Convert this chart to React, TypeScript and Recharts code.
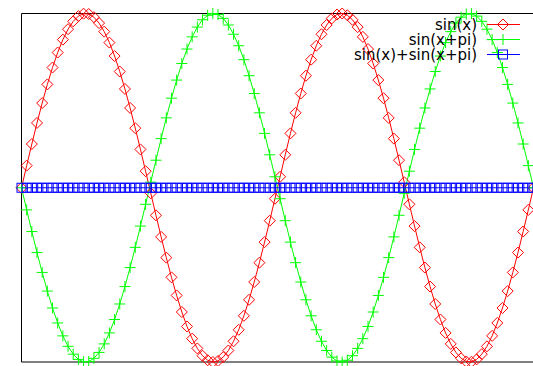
import { LineChart, Line, XAxis, YAxis, Legend, ReferenceArea } from "recharts";

// 100 samples over [0, 4*pi]
const sinX = [
  0, 0.127, 0.251, 0.372, 0.486, 0.593, 0.69, 0.776, 0.85, 0.91,
  0.955, 0.985, 0.999, 0.997, 0.979, 0.945, 0.896, 0.833, 0.756, 0.667,
  0.567, 0.458, 0.342, 0.22, 0.095, -0.032, -0.158, -0.282, -0.401, -0.514,
  -0.618, -0.713, -0.796, -0.866, -0.922, -0.964, -0.99, -1, -0.994, -0.972,
  -0.934, -0.881, -0.815, -0.735, -0.643, -0.541, -0.43, -0.312, -0.189, -0.063,
  0.063, 0.189, 0.312, 0.43, 0.541, 0.643, 0.735, 0.815, 0.881, 0.934,
  0.972, 0.994, 1, 0.99, 0.964, 0.922, 0.866, 0.796, 0.713, 0.618,
  0.514, 0.401, 0.282, 0.158, 0.032, -0.095, -0.22, -0.342, -0.458, -0.567,
  -0.667, -0.756, -0.833, -0.896, -0.945, -0.979, -0.997, -0.999, -0.985, -0.955,
  -0.91, -0.85, -0.776, -0.69, -0.593, -0.486, -0.372, -0.251, -0.127, 0,
];

const sinXPi = [
  0, -0.127, -0.251, -0.372, -0.486, -0.593, -0.69, -0.776, -0.85, -0.91,
  -0.955, -0.985, -0.999, -0.997, -0.979, -0.945, -0.896, -0.833, -0.756, -0.667,
  -0.567, -0.458, -0.342, -0.22, -0.095, 0.032, 0.158, 0.282, 0.401, 0.514,
  0.618, 0.713, 0.796, 0.866, 0.922, 0.964, 0.99, 1, 0.994, 0.972,
  0.934, 0.881, 0.815, 0.735, 0.643, 0.541, 0.43, 0.312, 0.189, 0.063,
  -0.063, -0.189, -0.312, -0.43, -0.541, -0.643, -0.735, -0.815, -0.881, -0.934,
  -0.972, -0.994, -1, -0.99, -0.964, -0.922, -0.866, -0.796, -0.713, -0.618,
  -0.514, -0.401, -0.282, -0.158, -0.032, 0.095, 0.22, 0.342, 0.458, 0.567,
  0.667, 0.756, 0.833, 0.896, 0.945, 0.979, 0.997, 0.999, 0.985, 0.955,
  0.91, 0.85, 0.776, 0.69, 0.593, 0.486, 0.372, 0.251, 0.127, 0,
];

const sinSum = [
  0, 0, 0, 0, 0, 0, 0, 0, 0, 0, 0, 0, 0, 0, 0, 0, 0, 0, 0, 0,
  0, 0, 0, 0, 0, 0, 0, 0, 0, 0, 0, 0, 0, 0, 0, 0, 0, 0, 0, 0,
  0, 0, 0, 0, 0, 0, 0, 0, 0, 0, 0, 0, 0, 0, 0, 0, 0, 0, 0, 0,
  0, 0, 0, 0, 0, 0, 0, 0, 0, 0, 0, 0, 0, 0, 0, 0, 0, 0, 0, 0,
  0, 0, 0, 0, 0, 0, 0, 0, 0, 0, 0, 0, 0, 0, 0, 0, 0, 0, 0, 0,
];

const seriesNames = ["sin(x)", "sin(x+pi)", "sin(x)+sin(x+pi)"];
const seriesColors = ["#ff0000", "#00ff00", "#0000ff"];

const data = sinX.map((v, i) => ({ i, a: v, b: sinXPi[i], c: sinSum[i] }));

type MarkProps = { cx: number; cy: number; color: string };

function Diamond({ cx, cy, color }: MarkProps) {
  const r = 5.5;
  return (
    <path
      d={`M${cx - r},${cy}L${cx},${cy - r}L${cx + r},${cy}L${cx},${cy + r}Z`}
      fill="none"
      stroke={color}
    />
  );
}

function Plus({ cx, cy, color }: MarkProps) {
  const r = 5.5;
  return (
    <path d={`M${cx - r},${cy}H${cx + r}M${cx},${cy - r}V${cy + r}`} fill="none" stroke={color} />
  );
}

function Box({ cx, cy, color }: MarkProps) {
  const r = 4.5;
  return <rect x={cx - r} y={cy - r} width={2 * r} height={2 * r} fill="none" stroke={color} />;
}

const marks = [Diamond, Plus, Box];

function markDot(k: number) {
  const Mark = marks[k];
  return (p: any) => <Mark key={p.index} cx={p.cx} cy={p.cy} color={seriesColors[k]} />;
}

function KeyBox() {
  return (
    <svg width={533} height={70} style={{ display: "block" }}>
      {seriesNames.map((name, k) => {
        const y = 24.5 + k * 15;
        const Mark = marks[k];
        return (
          <g key={name}>
            <text
              x={477}
              y={y + 5}
              textAnchor="end"
              fontFamily="DejaVu Sans"
              fontSize={15}
              fill="#000"
            >
              {name}
            </text>
            <line x1={487} x2={520} y1={y} y2={y} stroke={seriesColors[k]} />
            <Mark cx={503} cy={y} color={seriesColors[k]} />
          </g>
        );
      })}
    </svg>
  );
}

export default function App() {
  return (
    <div
      style={{
        position: "absolute",
        left: 0,
        top: 0,
        width: 533,
        height: 366,
        overflow: "hidden",
        background: "#fff",
      }}
    >
      <LineChart
        width={540}
        height={366}
        data={data}
        margin={{ top: 13.5, right: 6.5, bottom: 4, left: 21.5 }}
      >
        <XAxis dataKey="i" type="number" domain={[0, 99]} hide />
        <YAxis type="number" domain={[-1, 1]} hide />
        <ReferenceArea
          x1={0}
          x2={99}
          y1={-1}
          y2={1}
          fill="none"
          stroke="#000"
          strokeWidth={1}
          ifOverflow="visible"
        />
        <Line
          dataKey="a"
          name={seriesNames[0]}
          stroke={seriesColors[0]}
          strokeWidth={1}
          dot={markDot(0)}
          activeDot={false}
          isAnimationActive={false}
        />
        <Line
          dataKey="b"
          name={seriesNames[1]}
          stroke={seriesColors[1]}
          strokeWidth={1}
          dot={markDot(1)}
          activeDot={false}
          isAnimationActive={false}
        />
        <Line
          dataKey="c"
          name={seriesNames[2]}
          stroke={seriesColors[2]}
          strokeWidth={1}
          dot={markDot(2)}
          activeDot={false}
          isAnimationActive={false}
        />
        <Legend
          layout="vertical"
          align="center"
          verticalAlign="middle"
          content={() => <KeyBox />}
          wrapperStyle={{ position: "absolute", top: 0, left: 0, width: 533, height: 70 }}
        />
      </LineChart>
    </div>
  );
}
